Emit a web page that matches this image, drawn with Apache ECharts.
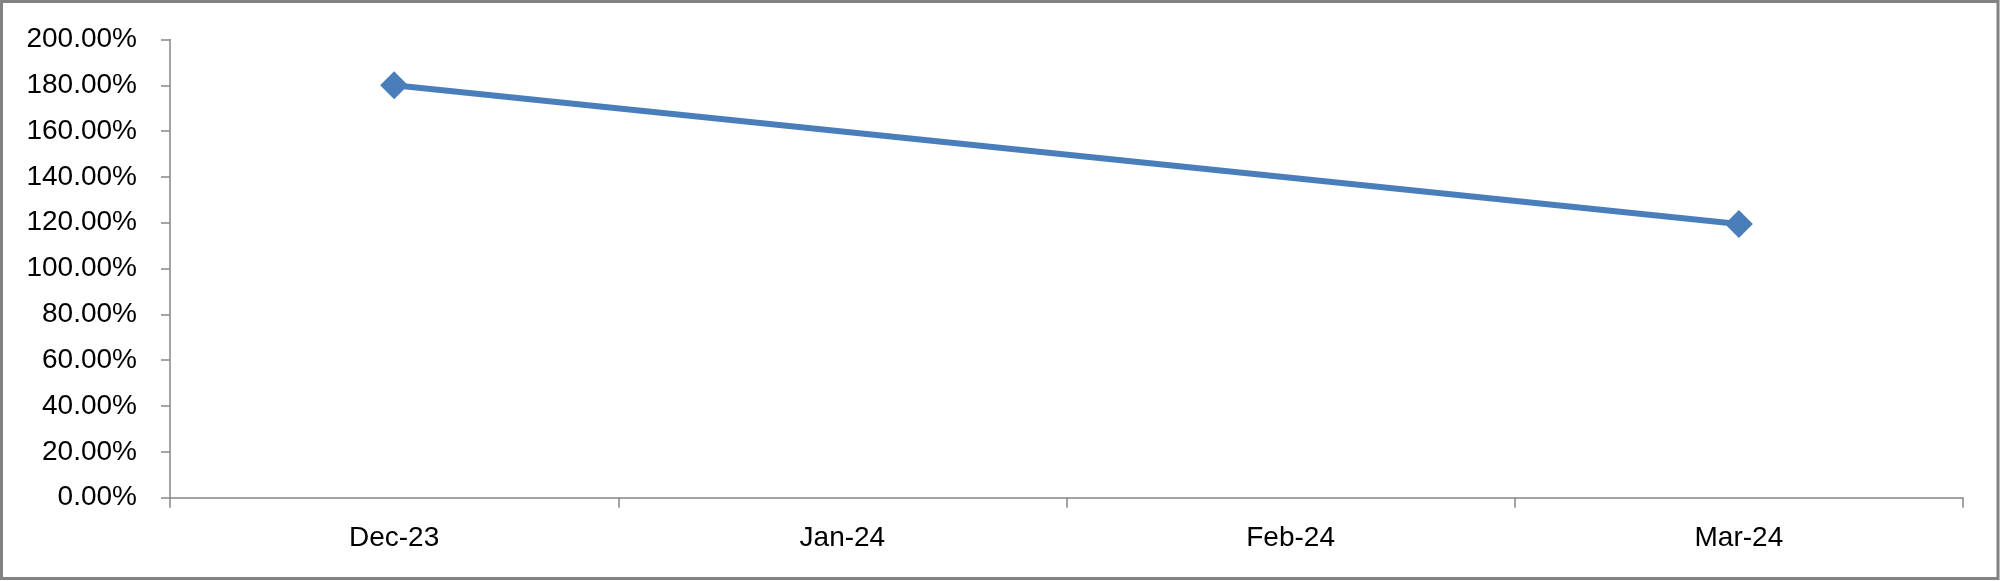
<!DOCTYPE html>
<html>
<head>
<meta charset="utf-8">
<script src="https://cdn.jsdelivr.net/npm/echarts@6/dist/echarts.min.js"></script>
<style>
html,body{margin:0;padding:0;background:#fff;}
#chart{width:2000px;height:581px;}
</style>
</head>
<body>
<div id="chart"></div>
<script>
const categories = ['Dec-23', 'Jan-24', 'Feb-24', 'Mar-24'];
const values = [180, null, null, 119.5];
const yMin = 0, yMax = 200, yStep = 20;

const chart = echarts.init(document.getElementById('chart'));
chart.setOption({
  animation: false,
  backgroundColor: '#fff',
  grid: {left: 170, right: 37, top: 39.5, bottom: 83.3},
  graphic: [{
    type: 'rect',
    shape: {x: 1.5, y: 1.5, width: 1996.5, height: 577},
    style: {fill: 'none', stroke: '#828282', lineWidth: 3},
    silent: true
  }],
  xAxis: {
    type: 'category',
    data: categories,
    boundaryGap: true,
    axisLine: {lineStyle: {color: '#868686', width: 1.5}},
    axisTick: {show: true, length: 10, lineStyle: {color: '#868686', width: 1.5}},
    axisLabel: {margin: 27, color: '#000', fontSize: 28, fontFamily: 'Liberation Sans'},
    splitLine: {show: false}
  },
  yAxis: {
    type: 'value',
    min: yMin, max: yMax, interval: yStep,
    axisLine: {show: true, lineStyle: {color: '#868686', width: 1.5}},
    axisTick: {show: true, length: 9, lineStyle: {color: '#868686', width: 1.5}},
    axisLabel: {margin: 33, color: '#000', fontSize: 28, fontFamily: 'Liberation Sans',
      formatter: v => v.toFixed(2) + '%'},
    splitLine: {show: false}
  },
  series: [{
    type: 'line',
    data: values,
    connectNulls: true,
    symbol: 'diamond',
    symbolSize: 28,
    lineStyle: {color: '#4A7EBB', width: 6},
    itemStyle: {color: '#4A7EBB'}
  }]
});
</script>
</body>
</html>
